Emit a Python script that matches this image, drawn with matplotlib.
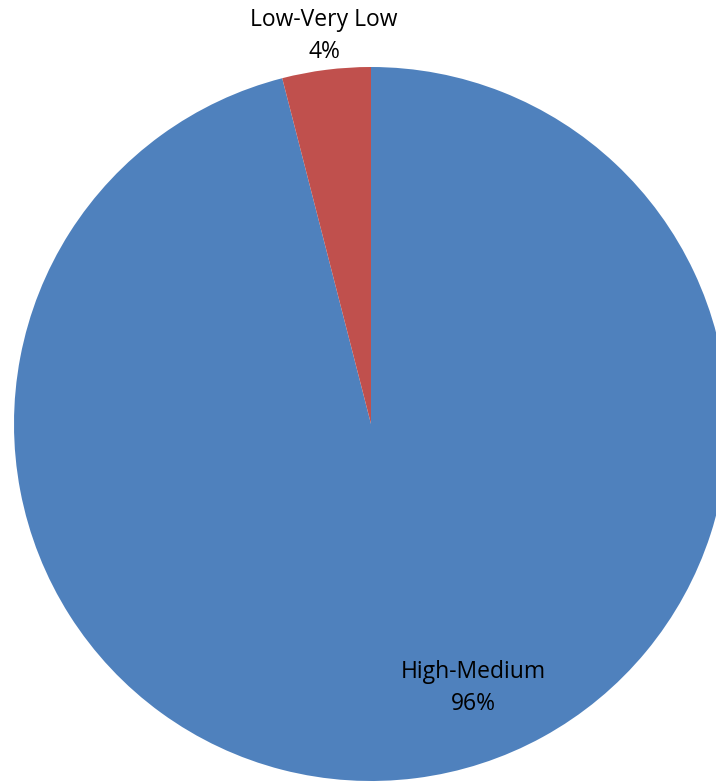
import matplotlib
matplotlib.use("Agg")
import matplotlib.pyplot as plt

categories = ["High-Medium", "Low-Very Low"]
values = [96, 4]
colors = ["#4F81BD", "#C0504D"]

W, H = 716, 782
cx, cy, R = 371, 424, 357

fig = plt.figure(figsize=(W / 100, H / 100), dpi=100)
ax = fig.add_axes([0, 0, 1, 1])
ax.pie(values, colors=colors, startangle=90, counterclock=False, radius=1,
       wedgeprops=dict(linewidth=0))
ax.set_xlim(-cx / R, (W - cx) / R)
ax.set_ylim(-(H - cy) / R, cy / R)
ax.set_aspect("equal")
ax.axis("off")

label_pos = {"High-Medium": (473, 688), "Low-Very Low": (324, 36)}
for cat, v in zip(categories, values):
    px, py = label_pos[cat]
    ax.text((px - cx) / R, (cy - py) / R, f"{cat}\n{v}%", ha="center", va="center",
            fontsize=16.5, family="Open Sans", linespacing=1.4, color="black")

fig.savefig("out.png", dpi=100)
